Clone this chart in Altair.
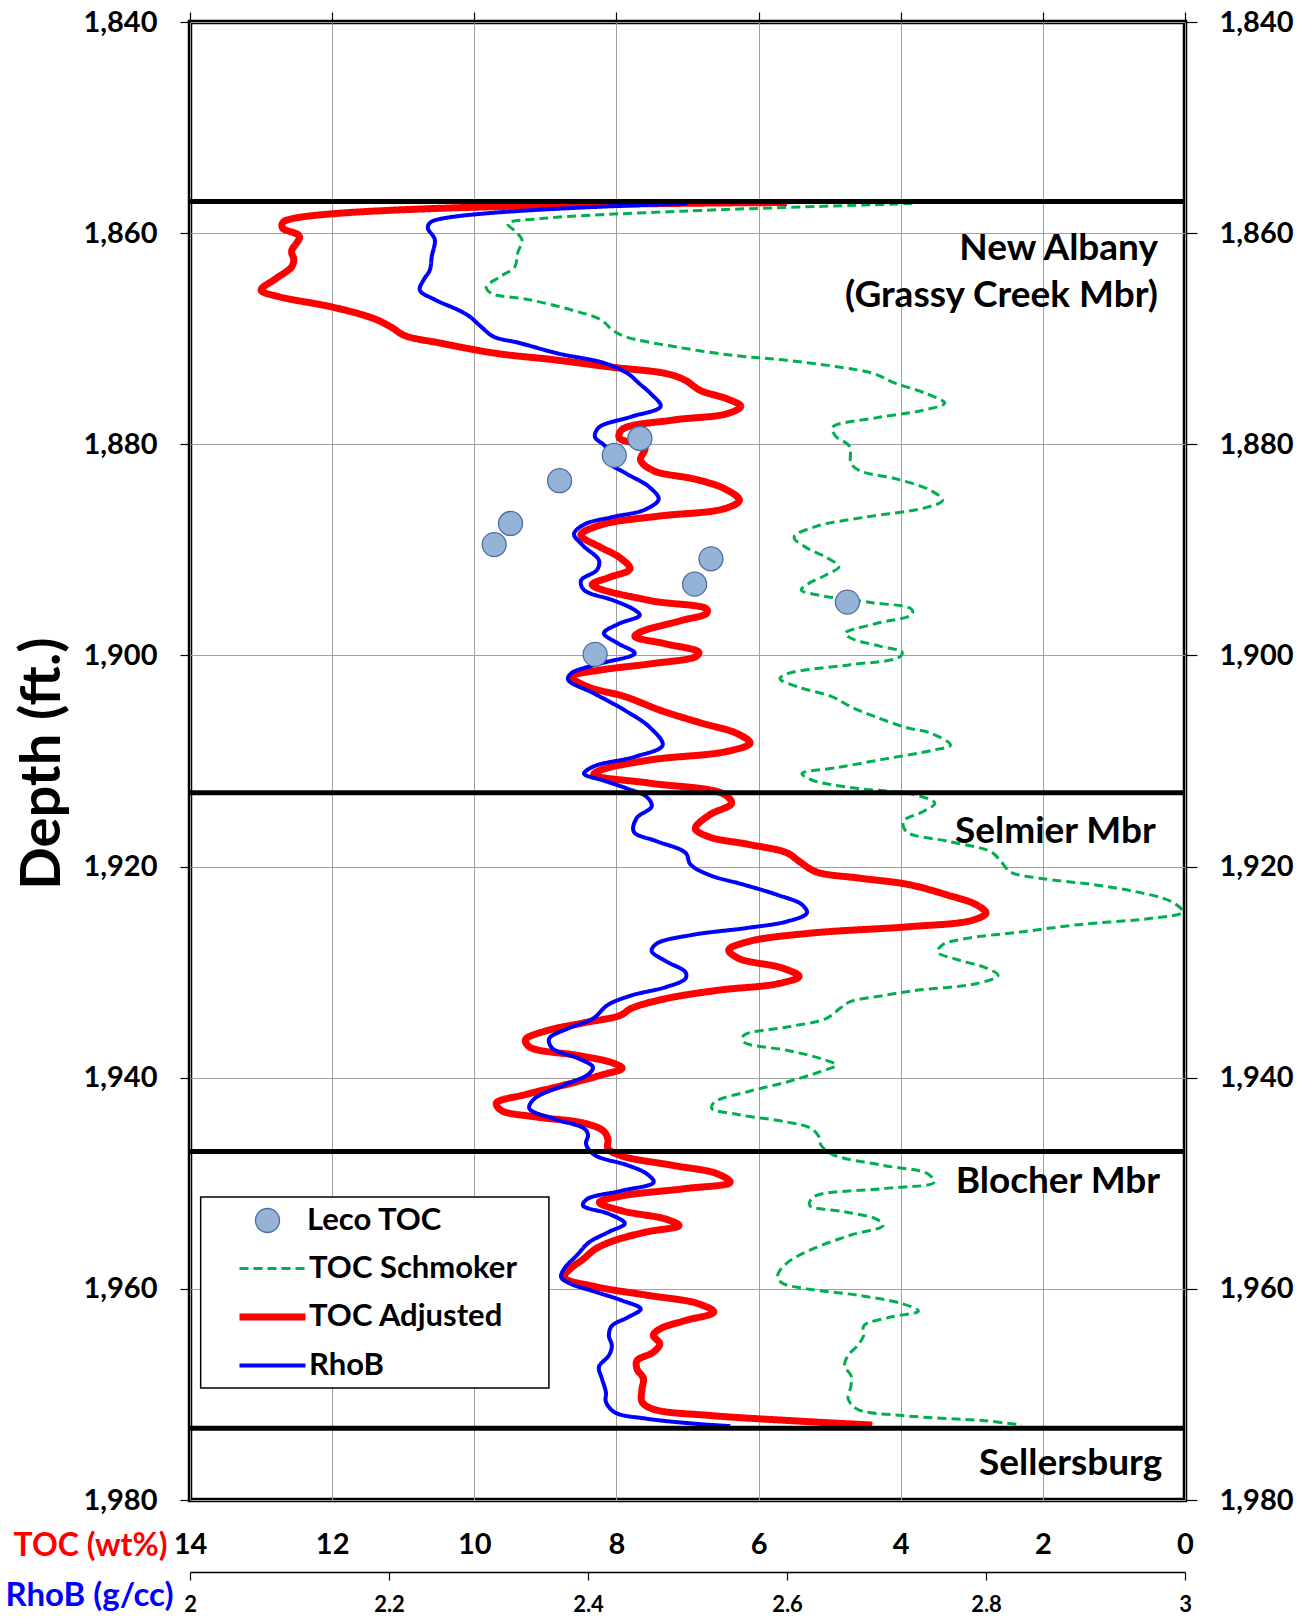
import altair as alt
import pandas as pd

FONT = "Lato"

# ---------------- data ----------------
depth_ticks = [1840, 1860, 1880, 1900, 1920, 1940, 1960, 1980]
toc_ticks = [0, 2, 4, 6, 8, 10, 12, 14]
rhob_ticks = [2.0, 2.2, 2.4, 2.6, 2.8, 3.0]

series_names = ["Leco TOC", "TOC Schmoker", "TOC Adjusted", "RhoB"]

adj_depth = [1857.1, 1858.9, 1859.5, 1860.3, 1861.7, 1862.5, 1863.2, 1864.3, 1865.4, 1866.0,
             1867.0, 1868.1, 1868.9, 1869.7, 1870.4, 1871.4, 1872.0, 1872.7, 1873.3, 1873.9,
             1874.9, 1875.7, 1876.4, 1877.1, 1877.7, 1878.6, 1879.4, 1880.3, 1881.5, 1882.5,
             1883.3, 1884.2, 1885.3, 1886.1, 1886.8, 1887.6, 1888.6, 1889.7, 1890.7, 1891.8,
             1892.6, 1893.3, 1894.8, 1895.6, 1896.0, 1896.7, 1897.8, 1898.2, 1898.9, 1899.7,
             1900.1, 1900.8, 1901.4, 1902.0, 1903.0, 1903.9, 1905.2, 1906.4, 1907.4, 1908.3,
             1909.1, 1909.9, 1910.9, 1911.3, 1912.1, 1913.1, 1914.0, 1915.1, 1916.4, 1917.2,
             1917.9, 1918.7, 1919.5, 1920.5, 1921.1, 1921.7, 1922.7, 1923.6, 1924.4, 1925.1,
             1925.7, 1926.3, 1927.1, 1927.9, 1928.7, 1929.6, 1930.4, 1931.1, 1931.7, 1932.5,
             1933.4, 1934.1, 1934.8, 1935.6, 1936.4, 1937.1, 1937.9, 1938.6, 1939.1, 1939.7,
             1940.7, 1941.6, 1942.4, 1943.1, 1943.7, 1944.3, 1945.0, 1945.8, 1946.7, 1947.4,
             1948.3, 1949.1, 1949.9, 1950.5, 1951.2, 1951.8, 1952.6, 1953.4, 1954.0, 1954.6,
             1955.4, 1956.2, 1957.2, 1958.1, 1958.9, 1959.8, 1960.6, 1961.4, 1962.2, 1963.0,
             1963.8, 1964.4, 1965.2, 1966.0, 1966.8, 1967.6, 1968.5, 1969.5, 1970.7, 1971.4,
             1972.0, 1972.5, 1972.9]
adj_toc = [5.6, 12.68, 12.70, 12.46, 12.57, 12.54, 12.57, 12.79, 13.00, 12.76,
           12.00, 11.41, 11.17, 10.98, 10.49, 9.68, 8.87, 8.06, 7.30, 7.04,
           6.82, 6.44, 6.25, 6.44, 7.20, 7.92, 7.96, 7.60, 7.66, 7.48,
           6.90, 6.48, 6.27, 6.48, 7.40, 8.20, 8.50, 8.24, 7.96, 7.81,
           8.10, 8.34, 7.53, 6.73, 6.73, 7.09, 7.67, 7.74, 7.31, 6.84,
           6.88, 7.53, 8.24, 8.64, 8.39, 7.88, 7.38, 6.81, 6.30, 6.12,
           6.45, 7.53, 8.24, 8.32, 7.53, 6.50, 6.38, 6.69, 6.89, 6.69,
           6.14, 5.60, 5.43, 5.19, 4.57, 3.89, 3.34, 2.94, 2.80, 3.00,
           3.89, 5.26, 6.14, 6.42, 6.28, 5.67, 5.43, 5.73, 6.55, 7.30,
           7.78, 7.95, 8.46, 9.01, 9.28, 9.22, 8.53, 8.05, 7.92, 8.19,
           8.74, 9.28, 9.69, 9.62, 9.15, 8.46, 8.19, 8.12, 8.12, 7.93,
           7.21, 6.58, 6.40, 7.03, 7.93, 8.24, 7.93, 7.30, 7.12, 7.57,
           8.02, 8.29, 8.47, 8.65, 8.74, 8.29, 7.57, 6.85, 6.63, 7.03,
           7.39, 7.48, 7.39, 7.48, 7.71, 7.71, 7.62, 7.64, 7.64, 7.48,
           6.67, 5.50, 4.40]

rhob_depth = [1857.2, 1858.9, 1859.5, 1860.6, 1862.2, 1863.5, 1864.4, 1865.4, 1866.3, 1867.3,
              1867.9, 1868.9, 1869.8, 1870.4, 1871.4, 1872.3, 1873.3, 1874.2, 1875.2, 1876.4,
              1877.4, 1878.4, 1879.3, 1880.3, 1881.5, 1882.8, 1884.0, 1885.2, 1886.2, 1886.9,
              1887.6, 1888.5, 1889.6, 1891.0, 1891.9, 1892.9, 1893.8, 1894.8, 1895.7, 1896.2,
              1897.0, 1897.9, 1898.9, 1899.8, 1900.8, 1901.7, 1902.3, 1903.6, 1905.2, 1906.8,
              1908.5, 1909.6, 1910.5, 1911.2, 1911.8, 1912.6, 1913.4, 1914.3, 1915.4, 1916.7,
              1917.6, 1918.7, 1919.8, 1920.8, 1921.7, 1922.7, 1923.6, 1924.4, 1925.2, 1925.8,
              1926.5, 1927.3, 1928.0, 1929.0, 1930.0, 1930.6, 1931.4, 1932.2, 1933.1, 1934.4,
              1935.3, 1936.3, 1937.2, 1938.2, 1939.0, 1939.7, 1940.7, 1942.0, 1942.9, 1943.9,
              1944.8, 1945.4, 1946.2, 1946.7, 1947.4, 1948.3, 1949.1, 1949.9, 1950.7, 1951.5,
              1952.1, 1952.9, 1953.8, 1954.6, 1955.6, 1956.8, 1958.1, 1958.9, 1959.5, 1960.3,
              1961.1, 1961.9, 1962.7, 1963.5, 1964.4, 1965.4, 1966.3, 1967.4, 1968.5, 1969.8,
              1970.7, 1971.7, 1972.3, 1972.8, 1973.0]
rhob_val = [2.500, 2.243, 2.239, 2.246, 2.243, 2.241, 2.235, 2.231, 2.246, 2.270,
            2.281, 2.293, 2.305, 2.331, 2.370, 2.416, 2.440, 2.451, 2.463, 2.473,
            2.443, 2.411, 2.407, 2.418, 2.418, 2.439, 2.461, 2.471, 2.457, 2.424,
            2.396, 2.386, 2.395, 2.411, 2.409, 2.393, 2.396, 2.426, 2.447, 2.452,
            2.431, 2.416, 2.431, 2.447, 2.411, 2.383, 2.380, 2.406, 2.437, 2.462,
            2.475, 2.447, 2.406, 2.396, 2.414, 2.439, 2.459, 2.464, 2.449, 2.446,
            2.469, 2.498, 2.503, 2.522, 2.556, 2.591, 2.615, 2.620, 2.600, 2.561,
            2.503, 2.469, 2.464, 2.479, 2.498, 2.498, 2.479, 2.444, 2.420, 2.405,
            2.381, 2.361, 2.364, 2.391, 2.405, 2.400, 2.376, 2.346, 2.341, 2.366,
            2.396, 2.400, 2.398, 2.400, 2.408, 2.440, 2.459, 2.466, 2.434, 2.399,
            2.395, 2.421, 2.437, 2.421, 2.401, 2.389, 2.376, 2.373, 2.382, 2.408,
            2.434, 2.453, 2.440, 2.424, 2.421, 2.424, 2.421, 2.411, 2.414, 2.418,
            2.418, 2.427, 2.459, 2.511, 2.543]

sch_depth = [1857.2, 1857.9, 1858.6, 1859.1, 1859.8, 1860.6, 1861.9, 1863.2, 1864.1, 1865.1,
             1865.7, 1866.3, 1867.3, 1868.2, 1869.2, 1869.8, 1870.8, 1871.6, 1872.0, 1872.7,
             1873.3, 1874.2, 1875.2, 1876.1, 1876.8, 1877.5, 1878.4, 1879.2, 1880.2, 1881.8,
             1882.5, 1883.3, 1884.4, 1885.3, 1886.0, 1886.9, 1887.8, 1888.8, 1889.9, 1890.7,
             1891.6, 1892.4, 1893.2, 1893.8, 1894.3, 1895.0, 1895.6, 1896.1, 1897.0, 1897.9,
             1898.4, 1899.1, 1899.7, 1900.2, 1900.9, 1901.7, 1902.2, 1903.0, 1903.9, 1904.9,
             1905.8, 1906.8, 1907.4, 1908.5, 1909.0, 1909.8, 1910.6, 1911.2, 1911.8, 1912.5,
             1913.2, 1914.0, 1914.8, 1915.7, 1916.7, 1917.6, 1918.6, 1919.5, 1920.5, 1921.1,
             1921.7, 1922.4, 1923.3, 1924.3, 1924.9, 1925.5, 1926.2, 1926.8, 1927.4, 1928.1,
             1928.8, 1929.6, 1930.3, 1931.1, 1931.7, 1932.2, 1932.8, 1933.4, 1934.4, 1935.2,
             1936.0, 1936.6, 1937.4, 1938.2, 1938.8, 1939.4, 1940.4, 1941.3, 1942.3, 1942.9,
             1943.5, 1944.2, 1944.8, 1945.6, 1946.4, 1947.3, 1948.3, 1949.1, 1949.9, 1950.5,
             1951.3, 1952.1, 1952.7, 1953.4, 1954.0, 1954.9, 1956.2, 1957.5, 1958.7, 1959.4,
             1960.0, 1960.6, 1961.4, 1962.1, 1962.7, 1963.5, 1964.4, 1965.4, 1966.3, 1967.3,
             1968.2, 1969.2, 1970.4, 1971.4, 1972.0, 1972.5, 1972.9]
sch_toc = [3.84, 7.00, 9.02, 9.53, 9.43, 9.33, 9.39, 9.43, 9.63, 9.83,
           9.76, 9.23, 8.62, 8.22, 8.05, 7.88, 7.14, 6.33, 5.66, 4.85,
           4.38, 4.08, 3.64, 3.38, 3.70, 4.35, 4.96, 4.92, 4.72, 4.70,
           4.58, 4.05, 3.57, 3.41, 3.65, 4.50, 5.20, 5.50, 5.30, 5.05,
           4.87, 5.06, 5.30, 5.40, 5.15, 4.40, 3.85, 3.84, 4.36, 4.78,
           4.69, 4.31, 3.98, 4.03, 4.73, 5.58, 5.70, 5.44, 4.97, 4.69,
           4.36, 3.94, 3.56, 3.30, 3.56, 4.22, 4.87, 5.39, 5.25, 4.73,
           3.80, 3.52, 3.69, 3.96, 3.92, 3.34, 2.73, 2.59, 2.46, 2.05,
           1.30, 0.68, 0.20, 0.03, 0.48, 1.50, 2.32, 3.07, 3.41, 3.48,
           3.21, 2.80, 2.63, 2.94, 3.75, 4.23, 4.71, 4.85, 5.05, 5.60,
           6.21, 6.21, 5.60, 5.12, 4.91, 5.12, 5.60, 6.14, 6.62, 6.66,
           6.28, 5.60, 5.26, 5.15, 5.12, 4.95, 4.25, 3.62, 3.53, 4.25,
           5.23, 5.28, 4.79, 4.34, 4.25, 4.70, 5.23, 5.59, 5.73, 5.68,
           5.32, 4.61, 3.98, 3.75, 4.16, 4.52, 4.52, 4.61, 4.74, 4.79,
           4.70, 4.70, 4.74, 4.61, 3.98, 2.81, 2.30]

leco_depth = [1879.45, 1881.05, 1883.45, 1887.5, 1889.5, 1890.85, 1893.25, 1894.95, 1899.9]
leco_toc = [7.67, 8.03, 8.80, 9.49, 9.72, 6.67, 6.90, 4.75, 8.30]

boundary_depth = [1857.0, 1913.0, 1947.0, 1973.2]

formation_names = ["New Albany", "(Grassy Creek Mbr)", "Selmier Mbr", "Blocher Mbr", "Sellersburg"]
formation_depth = [1861.5, 1866.0, 1916.7, 1949.9, 1976.6]
formation_toc = [0.38, 0.38, 0.41, 0.35, 0.32]

legend_box_toc = [13.85, 8.95]
legend_box_depth = [1951.3, 1969.4]

# ---------------- tables ----------------
df_toc_lines = pd.concat([
    pd.DataFrame({"depth": sch_depth, "toc": sch_toc, "series": series_names[1]}),
    pd.DataFrame({"depth": adj_depth, "toc": adj_toc, "series": series_names[2]}),
], ignore_index=True)
df_rhob = pd.DataFrame({"depth": rhob_depth, "rhob": rhob_val, "series": series_names[3]})
df_leco = pd.DataFrame({"depth": leco_depth, "toc": leco_toc, "series": series_names[0]})
df_bound = pd.DataFrame({"depth": boundary_depth})
df_form = pd.DataFrame({"depth": formation_depth, "toc": formation_toc, "name": formation_names})
df_box = pd.DataFrame({"x": [legend_box_toc[0]], "x2": [legend_box_toc[1]],
                       "y": [legend_box_depth[0]], "y2": [legend_box_depth[1]]})

# ---------------- scales ----------------
x_toc = alt.Scale(domain=[0, 14], reverse=True, nice=False, zero=False)
x_rhob = alt.Scale(domain=[2, 3], nice=False, zero=False)
y_scale = alt.Scale(domain=[1840, 1980], reverse=True, nice=False, zero=False)

line_names = series_names[1:]
color_scale = alt.Scale(domain=line_names, range=["#00B050", "#FF0000", "#0000FF"])
dash_scale = alt.Scale(domain=line_names, range=[[9, 5], [1, 0], [1, 0]])
width_scale = alt.Scale(type="ordinal", domain=line_names, range=[3, 7, 4])

label_style = dict(labelFont=FONT, labelFontWeight="bold", labelColor="black")

line_legend = alt.Legend(
    title=None, orient="none", legendX=67, legendY=1231,
    symbolType="M-3,0H3", symbolSize=484, labelFont=FONT, labelFontSize=31,
    labelFontWeight="bold", labelColor="black", labelOffset=21, labelLimit=400,
    rowPadding=16.5, padding=0,
)
point_legend = alt.Legend(
    title=None, orient="none", legendX=62, legendY=1183,
    symbolType="circle", symbolSize=576, symbolStrokeColor="#4F6FA0", symbolStrokeWidth=1.3,
    symbolFillColor="#95B3D7", symbolOpacity=1,
    labelFont=FONT, labelFontSize=31, labelFontWeight="bold", labelColor="black",
    labelOffset=24, labelLimit=400, padding=0,
)

# ---------------- axes ----------------
left_axis = alt.Axis(
    orient="left", values=depth_ticks, format=",d", labelFontSize=29, labelPadding=23,
    tickSize=10, tickColor="black", tickWidth=1.2, domain=False, grid=True,
    gridColor="#A0A0A0", gridWidth=1, labelFlush=False,
    title="Depth (ft.)", titleFont=FONT, titleFontSize=56, titleFontWeight="bold",
    titleColor="black", titleAngle=270, titleX=-148, titleY=741, titleAlign="center",
    titleBaseline="middle", **label_style,
)
right_axis = alt.Axis(
    orient="right", values=depth_ticks, format=",d", labelFontSize=29, labelPadding=22,
    tickSize=12, tickColor="black", tickWidth=1.2, domain=False, grid=False,
    labelFlush=False, title=None, **label_style,
)
toc_axis = alt.Axis(
    orient="bottom", values=toc_ticks, format="d", labelFontSize=29, labelPadding=30,
    ticks=False, domain=False, grid=True, gridColor="#A0A0A0", gridWidth=1,
    labelFlush=False, title="TOC (wt%)", titleFont=FONT, titleFontSize=32,
    titleFontWeight="bold", titleColor="#FF0000", titleX=-23, titleY=45,
    titleAlign="right", titleBaseline="middle", **label_style,
)
top_axis = alt.Axis(
    orient="top", values=toc_ticks, labels=False, ticks=True, tickSize=10,
    tickColor="black", tickWidth=1.2, domain=False, grid=False, title=None,
)
rhob_axis = alt.Axis(
    orient="bottom", offset=72, values=rhob_ticks, format=".1~f", labelFontSize=22,
    labelPadding=14, tickSize=8, tickColor="black", tickWidth=1.2, domain=True,
    domainColor="black", domainWidth=1.5, grid=False, labelFlush=False,
    title="RhoB (g/cc)", titleFont=FONT, titleFontSize=33, titleFontWeight="bold",
    titleColor="#0000FF", titleX=-17, titleY=23, titleAlign="right",
    titleBaseline="middle", **label_style,
)

# ---------------- layers ----------------
box = alt.Chart(df_box).mark_rect(fill="white", stroke="black", strokeWidth=1.5).encode(
    x=alt.X("x:Q", scale=x_toc, axis=None),
    x2="x2:Q",
    y=alt.Y("y:Q", scale=y_scale, axis=None),
    y2="y2:Q",
)

bounds = alt.Chart(df_bound).mark_rule(color="black", strokeWidth=5).encode(
    y=alt.Y("depth:Q", scale=y_scale, axis=left_axis),
)

toc_lines = alt.Chart(df_toc_lines).mark_line(interpolate="catmull-rom").encode(
    x=alt.X("toc:Q", scale=x_toc, axis=toc_axis),
    y=alt.Y("depth:Q", scale=y_scale, axis=right_axis),
    order=alt.Order("depth:Q"),
    color=alt.Color("series:N", scale=color_scale, legend=line_legend),
    strokeDash=alt.StrokeDash("series:N", scale=dash_scale, legend=line_legend),
    strokeWidth=alt.StrokeWidth("series:N", scale=width_scale, legend=line_legend),
)

rhob_line = alt.Chart(df_rhob).mark_line(interpolate="catmull-rom").encode(
    x=alt.X("rhob:Q", scale=x_rhob, axis=rhob_axis),
    y=alt.Y("depth:Q", scale=y_scale, axis=None),
    order=alt.Order("depth:Q"),
    color=alt.Color("series:N", scale=color_scale, legend=line_legend),
    strokeDash=alt.StrokeDash("series:N", scale=dash_scale, legend=line_legend),
    strokeWidth=alt.StrokeWidth("series:N", scale=width_scale, legend=line_legend),
)

leco = alt.Chart(df_leco).mark_point(
    shape="circle", filled=True, size=576, stroke="#4F6FA0", strokeWidth=1.3, opacity=1
).encode(
    x=alt.X("toc:Q", scale=x_toc, axis=top_axis),
    y=alt.Y("depth:Q", scale=y_scale, axis=None),
    fill=alt.Fill("series:N", scale=alt.Scale(domain=[series_names[0]], range=["#95B3D7"]),
                  legend=point_legend),
)

labels = alt.Chart(df_form).mark_text(
    align="right", baseline="middle", font=FONT, fontSize=37, fontWeight="bold", color="black"
).encode(
    x=alt.X("toc:Q", scale=x_toc, axis=None),
    y=alt.Y("depth:Q", scale=y_scale, axis=None),
    text="name:N",
)

chart = (
    alt.layer(box, toc_lines, rhob_line, bounds, leco, labels)
    .resolve_scale(x="independent")
    .resolve_axis(x="independent", y="independent")
    .properties(
        width=995, height=1478,
        autosize=alt.AutoSizeParams(type="none"),
        padding={"left": 190, "top": 22, "right": 129, "bottom": 118},
        background="white",
    )
    .configure_view(stroke="black", strokeWidth=4.5)
)

chart.save("out.html", embed_options={"renderer": "svg", "actions": False})
